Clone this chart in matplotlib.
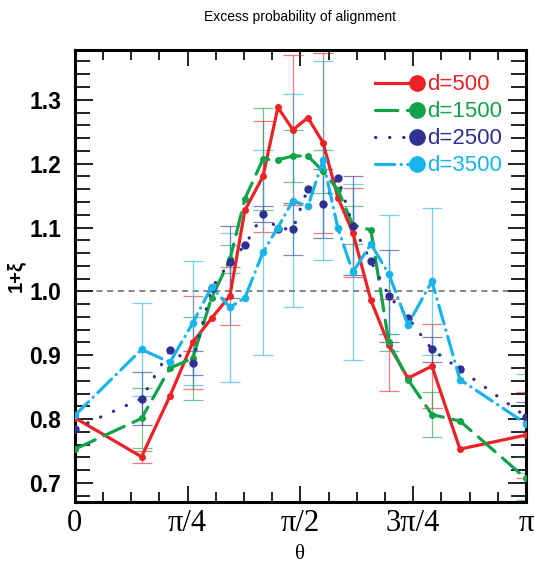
import numpy as np
import matplotlib
matplotlib.use("Agg")
import matplotlib.pyplot as plt
from matplotlib.lines import Line2D
from matplotlib.legend_handler import HandlerLine2D
from matplotlib.ticker import MultipleLocator, FormatStrFormatter

# angle of each bin
theta = [0.0, 0.464, 0.662, 0.820, 0.952, 1.080, 1.184, 1.310, 1.414, 1.519,
         1.623, 1.728, 1.832, 1.936, 2.062, 2.187, 2.320, 2.487, 2.682, np.pi]

d500 = [0.802, 0.741, 0.836, 0.920, 0.958, 0.993, 1.127, 1.180, 1.288, 1.253,
        1.272, 1.233, 1.147, 1.092, 0.986, 0.916, 0.864, 0.883, 0.753, 0.775]
d1500 = [0.753, 0.801, 0.880, 0.895, 0.990, 1.050, 1.145, 1.207, 1.206, 1.212,
         1.212, 1.188, 1.159, 1.104, 1.096, 0.920, 0.862, 0.807, 0.797, 0.707]
d2500 = [0.785, 0.832, 0.908, 0.888, 1.005, 1.046, 1.072, 1.121, 1.098, 1.098,
         1.161, 1.137, 1.178, 1.103, 1.047, 0.993, 0.959, 0.909, 0.878, 0.804]
d3500 = [0.806, 0.909, 0.889, 0.950, 1.007, 0.975, 0.990, 1.061, 1.100, 1.142,
         1.133, 1.205, 1.099, 1.030, 1.074, 1.027, 0.948, 1.016, 0.862, 0.793]

# error bars are only shown on every second bin
err_idx = [1, 3, 5, 7, 9, 11, 13, 15, 17, 19]
err500 = [0.009, 0.073, 0.045, 0.087, 0.117, 0.141, 0.070, 0.072, 0.066, 0.068]
err1500 = [0.047, 0.065, 0.022, 0.080, 0.041, 0.034, 0.030, 0.014, 0.035, 0.034]
err2500 = [0.042, 0.019, 0.056, 0.012, 0.041, 0.054, 0.077, 0.072, 0.020, 0.022]
err3500 = [0.073, 0.097, 0.117, 0.160, 0.167, 0.156, 0.138, 0.093, 0.115, 0.077]

labels = ['d=500', 'd=1500', 'd=2500', 'd=3500']
colors = ['#ec2227', '#12a34a', '#2e3192', '#1ab3ea']
styles = ['-', (0, (7, 3)), (0, (0.1, 4.3)), (0, (6, 2, 0.1, 2))]
series = [d500, d1500, d2500, d3500]
errors = [err500, err1500, err2500, err3500]
msizes = [4, 4, 5, 4.5]

xtick_pos = [0, np.pi / 4, np.pi / 2, 3 * np.pi / 4, np.pi]
xtick_lab = ['0', 'π/4', 'π/2', '3π/4', 'π']


class EndMarker(HandlerLine2D):
    # put the legend marker at the right end of the line
    def create_artists(self, *args, **kwargs):
        arts = super().create_artists(*args, **kwargs)
        arts[0].set_markevery([2])
        return arts


fig = plt.figure(figsize=(5.35, 5.68), dpi=100)
ax = fig.add_axes([0.140, 0.116, 0.843, 0.796])

th = np.array(theta)
for vals, errs, col in zip(series, errors, colors):
    v = np.array(vals)
    ax.errorbar(th[err_idx], v[err_idx], yerr=errs, fmt='none', ecolor=col,
                elinewidth=0.9, capsize=7.5, capthick=0.9, alpha=0.6, zorder=2)

ax.axhline(1.0, color='#666666', ls=(0, (4, 3)), lw=1.1, zorder=1)

handles = []
for vals, col, ls, ms, lab in zip(series, colors, styles, msizes, labels):
    ax.plot(theta, vals, color=col, ls=ls, lw=2.3, marker='o', ms=ms,
            dash_capstyle='round', solid_joinstyle='miter', zorder=3)
    handles.append(Line2D([], [], color=col, ls=ls, lw=2.3, marker='o', ms=11,
                          dash_capstyle='round', label=lab))

ax.set_xlim(0, np.pi)
ax.set_ylim(0.67, 1.378)

ax.set_xticks(xtick_pos)
ax.set_xticklabels(xtick_lab, family='Liberation Serif', fontsize=22)
ax.xaxis.set_minor_locator(MultipleLocator(np.pi / 16))
ax.yaxis.set_major_locator(MultipleLocator(0.1))
ax.yaxis.set_minor_locator(MultipleLocator(0.02))
ax.yaxis.set_major_formatter(FormatStrFormatter('%.1f'))
for t in ax.get_yticklabels():
    t.set_family('Liberation Sans')
    t.set_fontweight('bold')
    t.set_fontsize(16.5)

ax.tick_params(axis='both', which='both', direction='in', top=True, right=True,
               width=1.4, color='#222222')
ax.tick_params(axis='x', which='major', length=11.5, pad=5)
ax.tick_params(axis='x', which='minor', length=7)
ax.tick_params(axis='y', which='major', length=13, pad=10)
ax.tick_params(axis='y', which='minor', length=11)
for s in ax.spines.values():
    s.set_linewidth(2.2)

ax.set_xlabel('θ', family='Liberation Serif', fontsize=15, labelpad=5)
ax.set_ylabel('1+ξ', family='Liberation Sans', fontweight='bold', fontsize=14.5,
              labelpad=3)
ax.set_title('Excess probability of alignment', family='Liberation Sans',
             fontsize=10, pad=21)

ax.legend(handles=handles, loc='upper left', bbox_to_anchor=(0.665, 0.946),
          frameon=False, numpoints=1, handlelength=1.9, handletextpad=0.45,
          labelspacing=0.27, borderpad=0, borderaxespad=0,
          labelcolor='linecolor', prop={'family': 'Liberation Sans', 'size': 16},
          handler_map={Line2D: EndMarker()})

fig.savefig('out.png', dpi=100)
